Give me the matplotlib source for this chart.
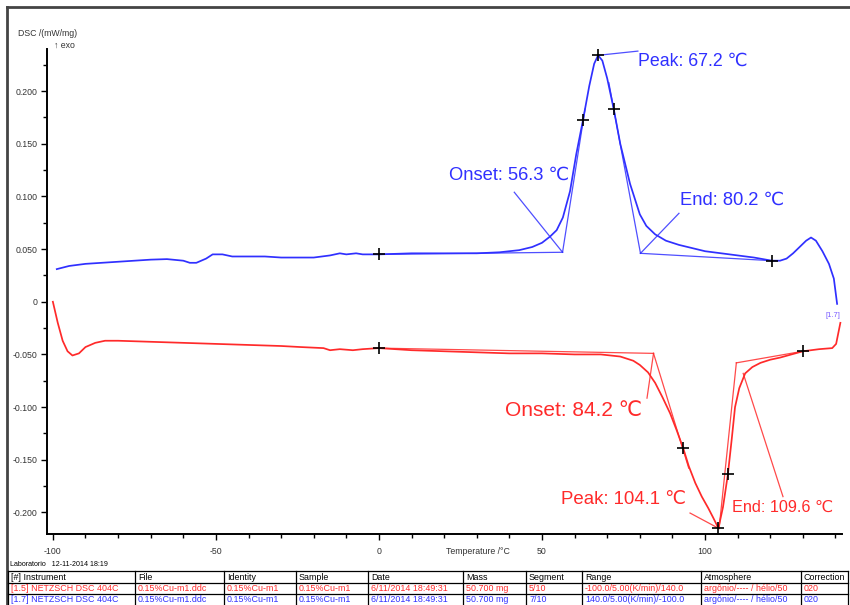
import matplotlib
matplotlib.use("Agg")
import matplotlib.pyplot as plt
from matplotlib.lines import Line2D
from matplotlib.ticker import MultipleLocator, FuncFormatter

plt.rcParams['font.family'] = ['Liberation Sans', 'DejaVu Sans']

BLUE = '#3030ff'
RED = '#ff2a2a'
GREY = '#333333'

# ---- cooling curve (segment 7/10), 140 -> -100 C
cool_T = [-98.8, -95, -90, -85, -80, -75, -70, -65, -60, -58, -56, -53, -51, -48,
          -45, -40, -35, -30, -25, -20, -15, -12, -10, -7, -5, 0, 10, 20, 30, 37,
          43, 47, 50, 52.5, 54.5, 56.4, 58.6, 60.5, 62.6, 64.5, 66, 67.2, 68.5, 70,
          72, 74, 77, 80, 82, 84.7, 88, 92, 96, 100, 105, 110, 115, 120.5, 123, 125,
          127, 129, 131, 132.5, 134, 136, 138, 139.5, 140.5]
cool_dsc = [0.031, 0.034, 0.036, 0.037, 0.038, 0.039, 0.040, 0.0405, 0.039, 0.037,
            0.037, 0.041, 0.045, 0.045, 0.043, 0.043, 0.043, 0.042, 0.042, 0.042,
            0.044, 0.046, 0.045, 0.046, 0.045, 0.045, 0.046, 0.046, 0.046, 0.047,
            0.049, 0.052, 0.056, 0.062, 0.068, 0.080, 0.105, 0.140, 0.173, 0.205,
            0.226, 0.234, 0.229, 0.212, 0.183, 0.150, 0.112, 0.083, 0.072, 0.064,
            0.058, 0.054, 0.051, 0.048, 0.046, 0.044, 0.042, 0.039, 0.039, 0.041,
            0.046, 0.052, 0.058, 0.061, 0.058, 0.048, 0.036, 0.022, -0.002]

# ---- heating curve (segment 5/10), -100 -> 140 C
heat_T = [-100, -98.5, -97, -95.5, -94, -92, -90, -87, -84, -80, -70, -60, -50, -40,
          -30, -24, -17, -15, -12, -8, -5, 0, 5, 10, 20, 30, 40, 50, 60, 68, 74, 78,
          80, 82.5, 84.7, 87, 89.3, 91.3, 93.3, 95, 97, 99, 101, 102.5, 104.1, 105.5,
          107, 108.2, 109.2, 110.5, 112.3, 114.5, 117, 120, 123, 126.5, 130, 135, 139,
          140.2, 141.5]
heat_dsc = [0.000, -0.020, -0.037, -0.047, -0.051, -0.049, -0.043, -0.039, -0.037,
            -0.037, -0.038, -0.039, -0.040, -0.041, -0.042, -0.043, -0.044, -0.046,
            -0.045, -0.046, -0.045, -0.044, -0.045, -0.046, -0.047, -0.048, -0.049,
            -0.049, -0.050, -0.050, -0.052, -0.056, -0.060, -0.067, -0.077, -0.091,
            -0.106, -0.122, -0.139, -0.156, -0.172, -0.185, -0.196, -0.205, -0.215,
            -0.195, -0.164, -0.130, -0.100, -0.082, -0.068, -0.062, -0.058, -0.055,
            -0.053, -0.050, -0.047, -0.045, -0.044, -0.040, -0.020]

# ---- evaluation results
cool_onset, cool_peak, cool_end = 56.3, 67.2, 80.2
heat_onset, heat_peak, heat_end = 84.2, 104.1, 109.6

# evaluation marker points (T, DSC)
cool_marks_T = [0, 62.6, 67.2, 72, 120.5]
cool_marks_v = [0.045, 0.173, 0.234, 0.183, 0.039]
heat_marks_T = [0, 93.3, 104.1, 107, 130]
heat_marks_v = [-0.044, -0.139, -0.215, -0.164, -0.047]

# tangent / baseline constructions: (T0, v0, T1, v1)
cool_constr = [(0, 0.045, cool_onset, 0.047),
               (cool_onset, 0.047, 63.2, 0.183),
               (70.5, 0.208, cool_end, 0.046),
               (cool_end, 0.046, 120.5, 0.039)]
heat_constr = [(0, -0.044, heat_onset, -0.049),
               (heat_onset, -0.049, 95.0, -0.158),
               (104.3, -0.2155, heat_end, -0.058),
               (heat_end, -0.058, 130, -0.047)]

# leader lines (T0, v0, T1, v1)
cool_leaders = [(41.5, 0.104, cool_onset, 0.047),
                (cool_peak, 0.234, 79.4, 0.238),
                (cool_end, 0.046, 92.0, 0.084)]
heat_leaders = [(heat_onset, -0.049, 82.2, -0.0915),
                (heat_peak, -0.215, 95.4, -0.2006),
                (111.7, -0.068, 123.9, -0.185)]

# annotation texts: (T, DSC, text, ha, size)
cool_labels = [(58.3, 0.120, f'Onset: {cool_onset} \u2103', 'right', 13.2),
               (79.4, 0.228, f'Peak: {cool_peak} \u2103', 'left', 12.8),
               (92.3, 0.0965, f'End: {cool_end} \u2103', 'left', 13.2)]
heat_labels = [(80.7, -0.103, f'Onset: {heat_onset} \u2103', 'right', 15.0),
               (94.2, -0.188, f'Peak: {heat_peak} \u2103', 'right', 13.4),
               (108.4, -0.195, f'End: {heat_end} \u2103', 'left', 11.7)]

x_limits = (-101.8, 142.0)
y_limits = (-0.2205, 0.240)

fig = plt.figure(figsize=(8.5, 6.05), dpi=100)
ax = fig.add_axes([47 / 850, 1 - 534 / 605, (842 - 47) / 850, (534 - 49) / 605])

ax.plot(cool_T, cool_dsc, color=BLUE, lw=1.25, zorder=3)
ax.plot(heat_T, heat_dsc, color=RED, lw=1.25, zorder=3)

for (t0, v0, t1, v1) in cool_constr + cool_leaders:
    ax.plot([t0, t1], [v0, v1], color=BLUE, lw=0.9, alpha=0.85, zorder=2)
for (t0, v0, t1, v1) in heat_constr + heat_leaders:
    ax.plot([t0, t1], [v0, v1], color=RED, lw=0.9, alpha=0.85, zorder=2)

ax.plot(cool_marks_T, cool_marks_v, ls='none', marker='+', ms=9, mew=1.2,
        color='black', zorder=4)
ax.plot(heat_marks_T, heat_marks_v, ls='none', marker='+', ms=9, mew=1.2,
        color='black', zorder=4)

for (t, v, s, ha, sz) in cool_labels:
    ax.text(t, v, s, color=BLUE, fontsize=sz, ha=ha, va='center', zorder=5)
for (t, v, s, ha, sz) in heat_labels:
    ax.text(t, v, s, color=RED, fontsize=sz, ha=ha, va='center', zorder=5)

ax.text(141.5, -0.0135, '[1.7]', color='#7a5cff', fontsize=5.5, ha='right',
        va='center')

ax.set_xlim(*x_limits)
ax.set_ylim(*y_limits)
for side in ('top', 'right'):
    ax.spines[side].set_visible(False)
for side in ('left', 'bottom'):
    ax.spines[side].set_linewidth(1.4)
    ax.spines[side].set_color('black')

ax.xaxis.set_major_locator(MultipleLocator(50))
ax.xaxis.set_minor_locator(MultipleLocator(10))
ax.yaxis.set_major_locator(MultipleLocator(0.05))
ax.yaxis.set_minor_locator(MultipleLocator(0.025))
ax.yaxis.set_major_formatter(FuncFormatter(lambda v, p: '0' if abs(v) < 1e-9 else f'{v:.3f}'))
ax.xaxis.set_major_formatter(FuncFormatter(lambda v, p: f'{v:.0f}'))
ax.tick_params(which='major', direction='out', length=4, width=1.0,
               labelsize=6.3, labelcolor=GREY, pad=3)
ax.tick_params(which='minor', direction='out', length=3, width=1.0)
ax.tick_params(axis='x', which='major', pad=5)

# axis captions
fig.text(18 / 850, 1 - 33 / 605, 'DSC /(mW/mg)', fontsize=6.3, color=GREY,
         ha='left', va='center')
fig.text(75 / 850, 1 - 45 / 605, '\u2191 exo', fontsize=6.3, color=GREY,
         ha='right', va='center')
fig.text(478 / 850, 1 - 552 / 605, 'Temperature /\u00b0C', fontsize=6.3,
         color=GREY, ha='center', va='center')

# outer frame
fr = dict(color='#444444', lw=2.0, transform=fig.transFigure)
fig.add_artist(Line2D([7 / 850, 7 / 850], [0, 1 - 7 / 605], **fr))
fig.add_artist(Line2D([7 / 850, 1], [1 - 7 / 605, 1 - 7 / 605], **fr))

# information table
fig.text(10 / 850, 1 - 565 / 605, 'Laboratorio   12-11-2014 18:19', fontsize=5.1,
         color='black', ha='left', va='center')

headers = ['[#] Instrument', 'File', 'Identity', 'Sample', 'Date', 'Mass',
           'Segment', 'Range', 'Atmosphere', 'Correction']
row_heat = ['[1.5] NETZSCH DSC 404C', '0.15%Cu-m1.ddc', '0.15%Cu-m1', '0.15%Cu-m1',
            '6/11/2014 18:49:31', '50.700 mg', '5/10', '-100.0/5.00(K/min)/140.0',
            'arg\u00f4nio/---- / h\u00e9lio/50', '020']
row_cool = ['[1.7] NETZSCH DSC 404C', '0.15%Cu-m1.ddc', '0.15%Cu-m1', '0.15%Cu-m1',
            '6/11/2014 18:49:31', '50.700 mg', '7/10', '140.0/5.00(K/min)/-100.0',
            'arg\u00f4nio/---- / h\u00e9lio/50', '020']

col_x = [8, 135, 224, 296, 368, 463, 526, 582, 701, 801, 848]
row_y = [571, 583, 594, 605]

tb = dict(color='black', lw=0.9, transform=fig.transFigure)
for y in row_y[:3]:
    fig.add_artist(Line2D([col_x[0] / 850, col_x[-1] / 850], [1 - y / 605, 1 - y / 605], **tb))
for x in col_x:
    fig.add_artist(Line2D([x / 850, x / 850], [0, 1 - row_y[0] / 605], **tb))

for r, (cells, col) in enumerate([(headers, 'black'), (row_heat, RED), (row_cool, BLUE)]):
    yc = (row_y[r] + row_y[r + 1]) / 2
    for c, s in enumerate(cells):
        fig.text((col_x[c] + 3) / 850, 1 - yc / 605, s, fontsize=6.4, color=col,
                 ha='left', va='center')

fig.savefig('out.png', dpi=100)
